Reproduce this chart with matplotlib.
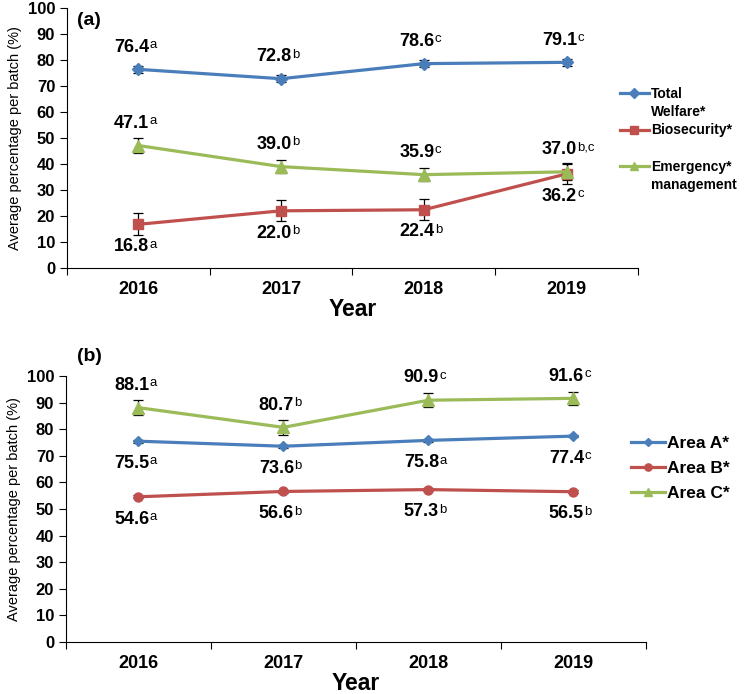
import matplotlib
matplotlib.use("Agg")
import matplotlib.pyplot as plt
from matplotlib.lines import Line2D
import numpy as np

plt.rcParams['font.family'] = ['Liberation Sans', 'DejaVu Sans']

years = ["2016", "2017", "2018", "2019"]

# Panel (a)
welfare = [76.4, 72.8, 78.6, 79.1]
welfare_err = [1.3, 1.3, 1.3, 1.3]
welfare_sup = ["a", "b", "c", "c"]
biosec = [16.8, 22.0, 22.4, 36.2]
biosec_err = [4.2, 4.0, 4.0, 4.0]
biosec_sup = ["a", "b", "b", "c"]
emerg = [47.1, 39.0, 35.9, 37.0]
emerg_err = [2.8, 2.6, 2.6, 3.0]
emerg_sup = ["a", "b", "c", "b,c"]

# Panel (b)
areaA = [75.5, 73.6, 75.8, 77.4]
areaA_err = [0.5, 0.5, 0.5, 0.5]
areaA_sup = ["a", "b", "a", "c"]
areaB = [54.6, 56.6, 57.3, 56.5]
areaB_err = [0.5, 0.5, 0.5, 0.5]
areaB_sup = ["a", "b", "b", "b"]
areaC = [88.1, 80.7, 90.9, 91.6]
areaC_err = [2.8, 2.7, 2.7, 2.5]
areaC_sup = ["a", "b", "c", "c"]

BLUE = "#4a7ebb"
RED = "#c0504d"
GREEN = "#9bbb59"

fig = plt.figure(figsize=(7.44, 6.94), dpi=100)
axA = fig.add_axes([0.090, 0.6138, 0.7675, 0.3747])
axB = fig.add_axes([0.0887, 0.0749, 0.7793, 0.3833])

x = np.arange(len(years))


def label(ax, xs, ys, texts, sups, dy):
    for xi, yi, t, s in zip(xs, ys, texts, sups):
        txt = ax.annotate(t, (xi, yi), xytext=(-5, dy), textcoords="offset points",
                          ha="center", va="center", fontsize=13, fontweight="bold")
        ax.annotate(s, xy=(1.0, 0.97), xycoords=txt, xytext=(0.2, 0),
                    textcoords="offset points", ha="left", va="top",
                    fontsize=9.5)


def series(ax, ys, err, color, marker, ms):
    ax.errorbar(x, ys, yerr=err, color=color, marker=marker, markersize=ms,
                linewidth=2.3, ecolor="black", elinewidth=0.9, capsize=3.5,
                capthick=0.9, zorder=3)
    return Line2D([], [], color=color, marker=marker, markersize=ms * 0.8,
                  linewidth=2.3)


def style(ax):
    ax.set_xlim(-0.5, 3.5)
    ax.set_ylim(0, 100)
    ax.set_yticks(np.arange(0, 101, 10))
    ax.spines["top"].set_visible(False)
    ax.spines["right"].set_visible(False)
    ax.set_xticks(np.arange(-0.5, 3.6, 1.0))
    ax.set_xticklabels([])
    ax.set_xticks(x, minor=True)
    ax.set_xticklabels(years, minor=True, fontsize=13, fontweight="bold")
    ax.tick_params(axis="x", which="minor", length=0, pad=9)
    ax.tick_params(axis="x", which="major", length=5, direction="out")
    ax.tick_params(axis="y", length=5, direction="out", labelsize=12)
    for lab in ax.get_yticklabels():
        lab.set_fontweight("bold")
    ax.set_xlabel("Year", fontsize=16.5, fontweight="bold", labelpad=0)
    ax.set_ylabel("Average percentage per batch (%)", fontsize=10.5, labelpad=4)


# ---- Panel (a)
h1 = series(axA, welfare, welfare_err, BLUE, "D", 6)
h2 = series(axA, biosec, biosec_err, RED, "s", 7)
h3 = series(axA, emerg, emerg_err, GREEN, "^", 8)
style(axA)
label(axA, x, welfare, [f"{v:.1f}" for v in welfare], welfare_sup, 16)
label(axA, x, emerg, [f"{v:.1f}" for v in emerg], emerg_sup, 16)
label(axA, x, biosec, [f"{v:.1f}" for v in biosec], biosec_sup, -16)
axA.text(0.018, 0.985, "(a)", transform=axA.transAxes, fontsize=14,
         fontweight="bold", ha="left", va="top")
blank = Line2D([], [], linestyle="none")
axA.legend([h1, blank, h2, blank, h3, blank],
           ["Total", "Welfare*", "Biosecurity*", " ", "Emergency*", "management"],
           loc="center left", bbox_to_anchor=(0.958, 0.494),
           frameon=False, handlelength=2.1, handletextpad=0.15,
           labelspacing=0.3, prop={"size": 10, "weight": "bold"},
           borderaxespad=0)

# ---- Panel (b)
g1 = series(axB, areaA, areaA_err, BLUE, "D", 5)
g2 = series(axB, areaB, areaB_err, RED, "o", 6.5)
g3 = series(axB, areaC, areaC_err, GREEN, "^", 8)
style(axB)
label(axB, x, areaC, [f"{v:.1f}" for v in areaC], areaC_sup, 16)
label(axB, x, areaA, [f"{v:.1f}" for v in areaA], areaA_sup, -16)
label(axB, x, areaB, [f"{v:.1f}" for v in areaB], areaB_sup, -16)
fig.text(0.104, 0.486, "(b)", fontsize=14, fontweight="bold", ha="left", va="center")
axB.legend([g1, g2, g3], ["Area A*", "Area B*", "Area C*"],
           loc="center left", bbox_to_anchor=(0.962, 0.652),
           frameon=False, handlelength=2.0, handletextpad=0.08,
           labelspacing=0.55, prop={"size": 12.5, "weight": "bold"},
           borderaxespad=0)

fig.savefig("out.png", dpi=100)
